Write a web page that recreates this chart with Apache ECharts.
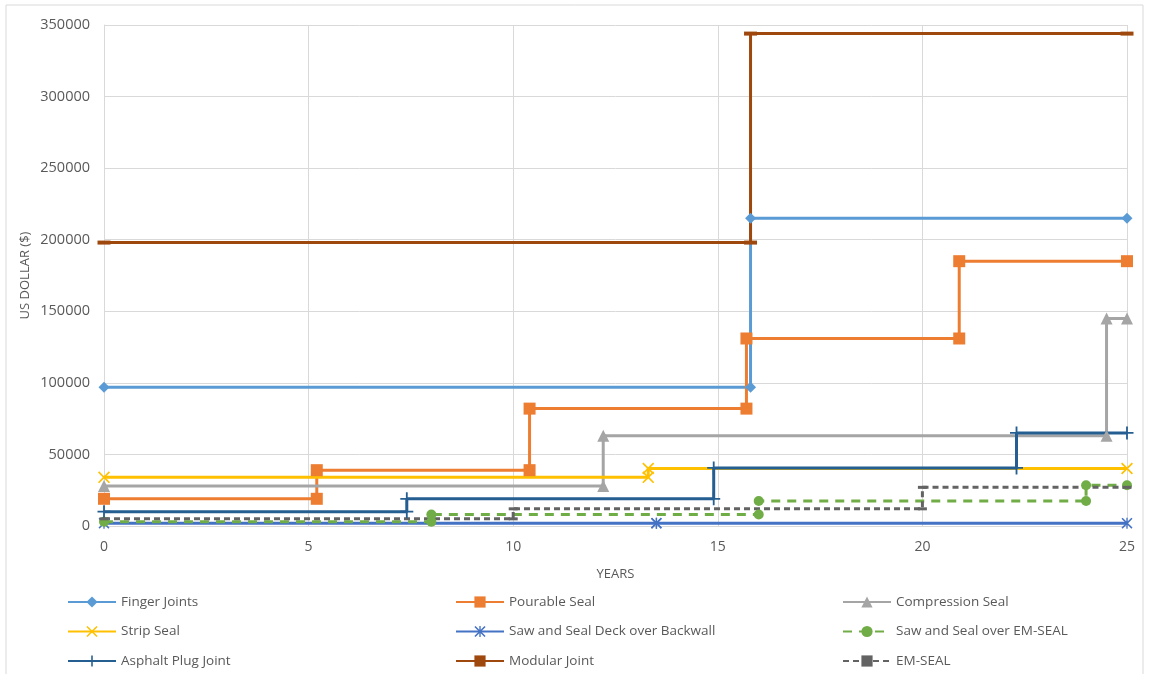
<!DOCTYPE html>
<html>
<head>
<meta charset="utf-8">
<title>Joint cost over time</title>
<script src="https://cdn.jsdelivr.net/npm/echarts@6/dist/echarts.min.js"></script>
<style>
  html, body { margin: 0; padding: 0; background: #ffffff; }
  #chart { width: 1149px; height: 674px; }
</style>
</head>
<body>
<div id="chart"></div>
<script>
// Cumulative cost (US$) of each expansion-joint type over a 25-year span.
// Each series is a step line: x = year, y = cumulative cost.
const fingerX     = [0, 15.8, 15.8, 25];
const fingerY     = [97000, 97000, 215000, 215000];
const pourableX   = [0, 5.2, 5.2, 10.4, 10.4, 15.7, 15.7, 20.9, 20.9, 25];
const pourableY   = [19000, 19000, 39000, 39000, 82000, 82000, 131000, 131000, 185000, 185000];
const compressionX = [0, 12.2, 12.2, 24.5, 24.5, 25];
const compressionY = [28000, 28000, 63000, 63000, 145000, 145000];
const stripX      = [0, 13.3, 13.3, 25];
const stripY      = [34000, 34000, 40200, 40200];
const sawDeckX    = [0, 13.5, 13.5, 25];
const sawDeckY    = [2000, 2000, 2000, 2000];
const sawEmX      = [0, 8, 8, 16, 16, 24, 24, 25];
const sawEmY      = [3000, 3000, 8000, 8000, 17500, 17500, 28500, 28500];
const asphaltX    = [0, 7.4, 7.4, 14.9, 14.9, 22.3, 22.3, 25];
const asphaltY    = [10000, 10000, 19000, 19000, 40600, 40600, 65000, 65000];
const modularX    = [0, 15.8, 15.8, 25];
const modularY    = [198000, 198000, 344000, 344000];
const emSealX     = [0, 10, 10, 20, 20, 25];
const emSealY     = [5000, 5000, 12000, 12000, 27000, 27000];

const seriesNames = [
  'Finger Joints', 'Pourable Seal', 'Compression Seal',
  'Strip Seal', 'Saw and Seal Deck over Backwall', 'Saw and Seal over EM-SEAL',
  'Asphalt Plug Joint', 'Modular Joint', 'EM-SEAL'
];
const xTicks = [0, 5, 10, 15, 20, 25];
const yTicks = [0, 50000, 100000, 150000, 200000, 250000, 300000, 350000];

// Marker shapes
const SYM_PLUS = 'path://M4.3,0H5.7V4.3H10V5.7H5.7V10H4.3V5.7H0V4.3H4.3Z';
const SYM_X = 'path://M1,0L5,4L9,0L10,1L6,5L10,9L9,10L5,6L1,10L0,9L4,5L0,1Z';
const SYM_STAR = 'path://M1,0L5,4L9,0L10,1L6,5L10,9L9,10L5,6L1,10L0,9L4,5L0,1Z M4.4,0H5.6V10H4.4Z';

function pairs(xs, ys) { return xs.map((x, i) => [x, ys[i]]); }

function stepSeries(name, xs, ys, color, symbol, symbolSize, lineType) {
  return {
    name: name,
    type: 'line',
    data: pairs(xs, ys),
    symbol: symbol,
    symbolSize: symbolSize,
    showAllSymbol: true,
    animation: false,
    color: color,
    lineStyle: { color: color, width: 3, type: lineType || 'solid', cap: 'butt' },
    itemStyle: { color: color, borderWidth: 0 },
    emphasis: { disabled: true }
  };
}

const series = [
  stepSeries(seriesNames[0], fingerX, fingerY, '#5B9BD5', 'diamond', 11),
  stepSeries(seriesNames[1], pourableX, pourableY, '#ED7D31', 'rect', 12),
  stepSeries(seriesNames[2], compressionX, compressionY, '#A5A5A5', 'triangle', 12),
  stepSeries(seriesNames[3], stripX, stripY, '#FFC000', SYM_X, 12),
  stepSeries(seriesNames[4], sawDeckX, sawDeckY, '#4472C4', SYM_STAR, 11),
  stepSeries(seriesNames[5], sawEmX, sawEmY, '#70AD47', 'circle', 10, [9, 7]),
  stepSeries(seriesNames[6], asphaltX, asphaltY, '#255E91', SYM_PLUS, 13),
  stepSeries(seriesNames[7], modularX, modularY, '#9E480E', 'rect', [13, 4]),
  stepSeries(seriesNames[8], emSealX, emSealY, '#636363', 'rect', [9, 3], [6, 4])
];

const txt = '#595959';
const font = "'Open Sans', 'Noto Sans', sans-serif";

function legendColumn(left, names) {
  return {
    orient: 'vertical',
    left: left,
    top: 595,
    padding: 0,
    itemWidth: 48,
    itemHeight: 14,
    itemGap: 15.5,
    selectedMode: false,
    data: names,
    textStyle: { color: txt, fontSize: 13.5, fontFamily: font }
  };
}

const chart = echarts.init(document.getElementById('chart'), null, { renderer: 'canvas' });
chart.setOption({
  backgroundColor: '#ffffff',
  animation: false,
  textStyle: { fontFamily: font },
  graphic: [{
    type: 'rect',
    shape: { x: 6, y: 5, width: 1137, height: 700 },
    style: { fill: 'none', stroke: '#d9d9d9', lineWidth: 1 },
    silent: true
  }],
  grid: { left: 104, right: 22, top: 25, bottom: 148, containLabel: false },
  legend: [
    legendColumn(67, [seriesNames[0], seriesNames[3], seriesNames[6]]),
    legendColumn(455, [seriesNames[1], seriesNames[4], seriesNames[7]]),
    legendColumn(842, [seriesNames[2], seriesNames[5], seriesNames[8]])
  ],
  xAxis: {
    type: 'value',
    min: xTicks[0],
    max: xTicks[xTicks.length - 1],
    interval: xTicks[1] - xTicks[0],
    name: 'YEARS',
    nameLocation: 'middle',
    nameGap: 42,
    nameTextStyle: { color: txt, fontSize: 13, fontFamily: font },
    axisLine: { show: true, lineStyle: { color: '#d9d9d9', width: 1 } },
    axisTick: { show: false },
    axisLabel: { color: txt, fontSize: 14, margin: 14, fontFamily: font },
    splitLine: { show: true, lineStyle: { color: '#d9d9d9', width: 1 } }
  },
  yAxis: {
    type: 'value',
    min: yTicks[0],
    max: yTicks[yTicks.length - 1],
    interval: yTicks[1] - yTicks[0],
    name: 'US DOLLAR ($)',
    nameLocation: 'middle',
    nameGap: 72,
    nameMoveOverlap: false,
    nameRotate: 90,
    nameTextStyle: { color: txt, fontSize: 13, fontFamily: font },
    axisLine: { show: true, lineStyle: { color: '#d9d9d9', width: 1 } },
    axisTick: { show: false },
    axisLabel: {
      color: txt, fontSize: 14.5, margin: 14, fontFamily: font,
      formatter: v => String(v)
    },
    splitLine: { show: true, lineStyle: { color: '#d9d9d9', width: 1 } }
  },
  series: series
});
</script>
</body>
</html>
